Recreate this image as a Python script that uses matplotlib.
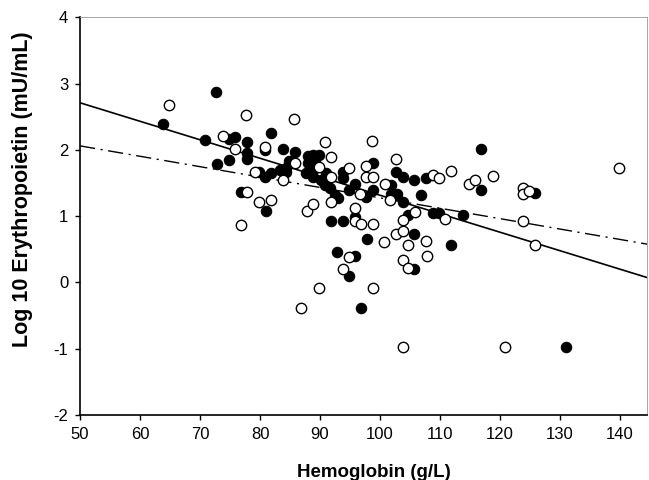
import numpy as np
import matplotlib.pyplot as plt

plt.rcParams["font.family"] = ["Liberation Sans", "DejaVu Sans"]
plt.rcParams["axes.unicode_minus"] = False

# filled circles
hb_filled = [63.9, 70.9, 72.7, 72.8, 74.8, 74.8, 75.9, 76.9, 77.8, 77.8, 77.8, 79.9,
             80.8, 80.8, 81.0, 81.9, 81.9, 83.3, 83.8, 84.4, 84.4, 84.8, 85.8, 87.7,
             88.0, 88.0, 88.8, 88.8, 88.8, 89.1, 89.9, 90.2, 90.8, 91.0, 91.6, 91.8,
             92.5, 92.9, 93.0, 93.8, 93.8, 93.8, 94.8, 94.9, 95.8, 95.8, 95.8, 96.8,
             97.7, 97.8, 98.8, 98.8, 101.9, 101.9, 102.7, 102.9, 103.8, 103.8, 104.7,
             105.7, 105.7, 105.7, 106.9, 107.7, 108.8, 109.9, 111.8, 113.8, 116.8,
             116.8, 125.9, 131.0]
epo_filled = [2.39, 2.15, 2.87, 1.79, 2.17, 1.85, 2.19, 1.37, 2.12, 1.96, 1.86, 1.67,
              2.00, 1.59, 1.08, 2.25, 1.65, 1.70, 2.01, 1.72, 1.67, 1.83, 1.97, 1.65,
              1.90, 1.80, 1.92, 1.70, 1.59, 1.82, 1.92, 1.54, 1.47, 1.65, 1.42, 0.92,
              1.32, 0.46, 1.27, 1.67, 1.57, 0.92, 0.10, 1.39, 1.49, 0.98, 0.40, -0.38,
              1.29, 0.65, 1.80, 1.39, 1.47, 1.34, 1.67, 1.34, 1.59, 1.22, 1.02,
              1.54, 0.73, 0.21, 1.32, 1.57, 1.04, 1.04, 0.57, 1.02, 2.02,
              1.39, 1.35, -0.98]

# open circles
hb_open = [64.9, 73.8, 75.9, 76.9, 77.7, 77.8, 79.1, 79.8, 80.8, 81.9, 83.8, 85.7,
           85.9, 86.9, 87.9, 88.8, 89.8, 89.9, 90.8, 91.8, 91.8, 91.8, 93.8, 94.8,
           94.8, 95.8, 95.9, 96.6, 96.8, 97.6, 97.7, 98.7, 98.8, 98.8, 98.8, 100.7,
           100.8, 101.7, 102.7, 102.7, 103.8, 103.8, 103.8, 103.8, 104.7, 104.7,
           105.9, 107.7, 107.8, 108.8, 109.9, 110.9, 111.8, 114.8, 115.9, 118.8,
           120.9, 123.9, 123.9, 124.9, 123.9, 125.8, 139.9]
epo_open = [2.68, 2.21, 2.01, 0.87, 2.52, 1.37, 1.67, 1.22, 2.05, 1.25, 1.54, 2.47,
            1.80, -0.38, 1.08, 1.18, -0.08, 1.74, 2.12, 1.89, 1.59, 1.22, 0.21, 1.73,
            0.38, 1.13, 0.92, 1.34, 0.88, 1.59, 1.75, 2.13, 1.59, 0.88, -0.08, 0.61,
            1.49, 1.24, 1.86, 0.73, 0.94, 0.78, 0.34, -0.98, 0.57, 0.22,
            1.07, 0.62, 0.40, 1.62, 1.57, 0.95, 1.68, 1.48, 1.55, 1.60,
            -0.98, 1.42, 1.33, 1.38, 0.92, 0.57, 1.73]

# regression lines (end points)
fit_x = [50, 145]
fit_solid = [2.71, 0.06]
fit_dashdot = [2.06, 0.57]

fig = plt.figure(figsize=(6.49, 4.80), dpi=100)
ax = fig.add_axes([0.1233, 0.1354, 0.8737, 0.8286])

ax.plot(fit_x, fit_solid, color="black", lw=1.2, zorder=2)
ax.plot(fit_x, fit_dashdot, color="black", lw=1.0, dashes=(11, 4, 1.5, 4), zorder=2)

ax.scatter(hb_filled, epo_filled, s=56, c="black", edgecolors="black",
           linewidths=0.8, zorder=3)
ax.scatter(hb_open, epo_open, s=56, c="white", edgecolors="black",
           linewidths=1.0, zorder=4)

ax.set_xlim(50, 144.5)
ax.set_ylim(-2, 4)
ax.set_xticks(range(50, 141, 10))
ax.set_yticks(range(-2, 5))

for side in ["left", "bottom"]:
    ax.spines[side].set_linewidth(1.2)
for side in ["top", "right"]:
    ax.spines[side].set_linewidth(0.6)
    ax.spines[side].set_color("#999999")

ax.tick_params(direction="out", length=3.5, width=1, labelsize=12, pad=5)

ax.set_xlabel("Hemoglobin (g/L)", fontsize=13.5, fontweight="bold")
ax.set_ylabel("Log 10 Erythropoietin (mU/mL)", fontsize=15.5, fontweight="bold")
ax.xaxis.set_label_coords(0.518, -0.1446)
ax.yaxis.set_label_coords(-0.1014, 0.568)
ax.xaxis.label.set_va("center")
ax.yaxis.label.set_va("center")

fig.savefig("out.png", dpi=100)
